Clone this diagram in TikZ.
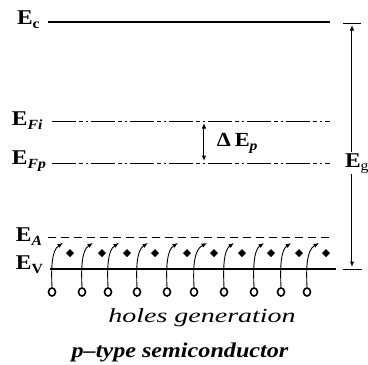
\documentclass[tikz,border=0pt]{standalone}
\usepackage{fontspec}
\setmainfont{Liberation Serif}
\usetikzlibrary{arrows.meta,shapes.geometric}
\newcommand\bigE{{\fontsize{21}{21}\selectfont\bfseries E}}
\newcommand\subt[1]{\raisebox{-4pt}{\fontsize{14}{14}\selectfont\bfseries #1}}
\newcommand\subti[1]{\raisebox{-4pt}{\fontsize{14}{14}\selectfont\bfseries\itshape #1}}
\newcommand\sx[1]{\scalebox{1.12}[1]{#1}}
\begin{document}
\begin{tikzpicture}[x=1pt,y=-1pt,
  lab/.style={inner sep=0pt,outer sep=0pt,anchor=base west},
  tipa/.style={-{Latex[length=5.5pt,width=4.5pt]}},
  tipb/.style={{Latex[length=5.5pt,width=4.5pt]}-{Latex[length=5.5pt,width=4.5pt]}},
  dashdot/.style={line width=1pt,dash pattern=on 24pt off 3pt on 4pt off 3pt on 2pt off 3pt},
  dashA/.style={line width=1pt,dash pattern=on 8pt off 5pt},
  hole/.style={ellipse,draw,line width=1.6pt,minimum width=7pt,minimum height=8pt,inner sep=0pt}]
\useasboundingbox (0,0) rectangle (368,365);
% levels
\coordinate (c1) at (48,22);  \coordinate (c2) at (330,22);
\coordinate (i1) at (52,121); \coordinate (i2) at (330,121);
\coordinate (p1) at (52,163); \coordinate (p2) at (330,163);
\coordinate (a1) at (48,237); \coordinate (a2) at (330,237);
\coordinate (v1) at (50,269); \coordinate (v2) at (336,269);
\draw[line width=2pt] (c1) -- (c2);
\draw[dashdot] (i1) -- (i2);
\draw[dashdot] (p1) -- (p2);
\draw[dashA] (a1) -- (a2);
\draw[line width=2pt] (v1) -- (v2);
% labels
\node[lab] (lc) at (17,24) {\sx{\bigE\subt{c}}};
\node[lab] (li) at (12,125) {\sx{\bigE\subti{Fi}}};
\node[lab] (lp) at (12,164) {\sx{\bigE\subti{Fp}}};
\node[lab] (la) at (16,241) {\sx{\bigE\subti{A}}};
\node[lab] (lv) at (16,269) {\sx{\bigE\subt{V}}};
% Eg arrow
\coordinate (tl) at (343,23); \coordinate (tr) at (361,23);
\coordinate (bl) at (343,269); \coordinate (br) at (362,269);
\draw[line width=0.9pt] (tl) -- (tr);
\draw[line width=0.9pt] (bl) -- (br);
\coordinate (gt) at (352,25); \coordinate (gb) at (352,267);
\draw[line width=1pt,tipb] (gt) -- (gb);
\node[lab,fill=white,inner sep=1pt] (lg) at (344,167) {\sx{\bigE\raisebox{-3pt}{\fontsize{14}{14}\selectfont g}}};
% Delta Ep
\coordinate (dt) at (204,123); \coordinate (db) at (204,161);
\draw[line width=1pt,tipb] (dt) -- (db);
\node[lab] (ld) at (217,146) {\sx{{\fontsize{20}{20}\selectfont\bfseries Δ\,E}\subti{p}}};
% holes and acceptors
\foreach \o/\d/\t [count=\k] in {52/70/63,82/102/93,108/127/119,137/155/148,167/187/178,194/214/207,224/242/234,254/271/264,281/299/291,307/326/319}{
  \node[hole] (h\k) at (\o,292) {};
  \coordinate (t\k) at (\t,243);
  \draw[line width=0.9pt,tipa] (h\k.north) .. controls (\o-1,266) and (\o,250) .. (t\k);
  \fill (\d,249) -- (\d+4,253) -- (\d,257) -- (\d-4,253) -- cycle;
}
% captions
\node[lab,anchor=base] (cap1) at (202,322) {\scalebox{1.4}[1]{\fontsize{20}{20}\selectfont\itshape holes generation}};
\node[lab,anchor=base] (cap2) at (180,357) {\scalebox{1.15}[1]{\fontsize{21}{21}\selectfont\bfseries\itshape p–type semiconductor}};
\end{tikzpicture}
\end{document}
